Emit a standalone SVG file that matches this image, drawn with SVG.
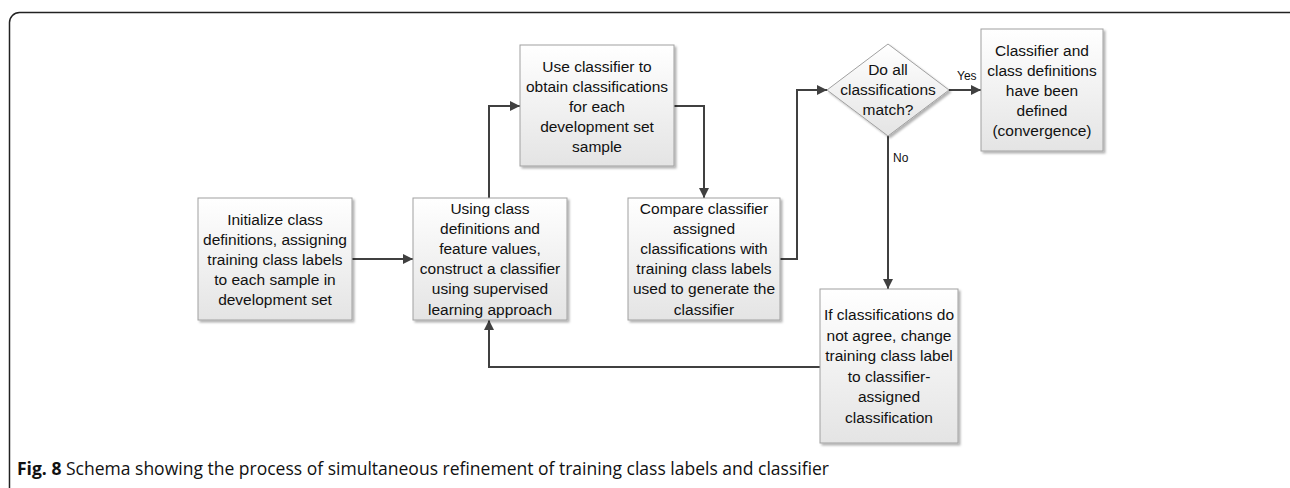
<svg xmlns="http://www.w3.org/2000/svg" width="1290" height="488" viewBox="0 0 1290 488">
<defs>
<linearGradient id="g" x1="0" y1="0" x2="0" y2="1">
<stop offset="0" stop-color="#ffffff"/>
<stop offset="1" stop-color="#e4e4e4"/>
</linearGradient>
<filter id="sh" x="-10%" y="-10%" width="130%" height="130%">
<feDropShadow dx="2" dy="2" stdDeviation="1" flood-color="#000" flood-opacity="0.3"/>
</filter>
<marker id="ah" viewBox="0 0 10 10" refX="10" refY="5" markerWidth="10" markerHeight="10" markerUnits="userSpaceOnUse" orient="auto">
<path d="M0,0 L10,5 L0,10 z" fill="#404040"/>
</marker>
<style>
.box{fill:url(#g);stroke:#a0a0a0;stroke-width:1;filter:url(#sh)}
.t{font-family:"Liberation Sans",Arial,sans-serif;font-size:15.5px;fill:#111;text-anchor:middle}
.lbl{font-family:"Liberation Sans",Arial,sans-serif;font-size:12px;fill:#111}
.c{fill:none;stroke:#404040;stroke-width:2;marker-end:url(#ah)}
.cap{font-family:"Open Sans","Liberation Sans",sans-serif;font-size:18px;fill:#111}
</style>
</defs>
<rect x="9.5" y="12.5" width="1290" height="500" rx="10" fill="#fff" stroke="#222" stroke-width="1.5"/>

<g id="connectors">
<path class="c" d="M352,259 H413"/>
<path class="c" d="M489,198 V106 H520"/>
<path class="c" d="M674,106 H704 V198"/>
<path class="c" d="M780,259 H797 V90 H827"/>
<path class="c" d="M949,90 H981"/>
<path class="c" d="M888,136 V289"/>
<path class="c" d="M820,367 H489 V320"/>
<text class="lbl" x="957" y="80">Yes</text>
<text class="lbl" x="893" y="162">No</text>
</g>

<g id="nodeA">
<rect class="box" x="198" y="198" width="154" height="122"/>
<text class="t"><tspan x="275" y="225">Initialize class</tspan><tspan x="275" y="245">definitions, assigning</tspan><tspan x="275" y="265">training class labels</tspan><tspan x="275" y="285">to each sample in</tspan><tspan x="275" y="305">development set</tspan></text>
</g>

<g id="nodeB">
<rect class="box" x="413" y="198" width="154" height="122"/>
<text class="t"><tspan x="490" y="213.5">Using class</tspan><tspan x="490" y="233.7">definitions and</tspan><tspan x="490" y="253.9">feature values,</tspan><tspan x="490" y="274.1">construct a classifier</tspan><tspan x="490" y="294.3">using supervised</tspan><tspan x="490" y="314.5">learning approach</tspan></text>
</g>

<g id="nodeC">
<rect class="box" x="520" y="45" width="154" height="121"/>
<text class="t"><tspan x="597" y="72">Use classifier to</tspan><tspan x="597" y="92">obtain classifications</tspan><tspan x="597" y="112">for each</tspan><tspan x="597" y="132">development set</tspan><tspan x="597" y="152">sample</tspan></text>
</g>

<g id="nodeD">
<rect class="box" x="628" y="198" width="152" height="122"/>
<text class="t"><tspan x="704" y="213.5">Compare classifier</tspan><tspan x="704" y="233.7">assigned</tspan><tspan x="704" y="253.9">classifications with</tspan><tspan x="704" y="274.1">training class labels</tspan><tspan x="704" y="294.3">used to generate the</tspan><tspan x="704" y="314.5">classifier</tspan></text>
</g>

<g id="decision">
<path class="box" d="M888,44 L949,90 L888,136 L827,90 z"/>
<text class="t"><tspan x="888" y="75">Do all</tspan><tspan x="888" y="95">classifications</tspan><tspan x="888" y="115">match?</tspan></text>
</g>

<g id="nodeE">
<rect class="box" x="981" y="29" width="122" height="122"/>
<text class="t"><tspan x="1042" y="56">Classifier and</tspan><tspan x="1042" y="76">class definitions</tspan><tspan x="1042" y="96">have been</tspan><tspan x="1042" y="116">defined</tspan><tspan x="1042" y="136">(convergence)</tspan></text>
</g>

<g id="nodeF">
<rect class="box" x="820" y="289" width="138" height="154"/>
<text class="t"><tspan x="889" y="320">If classifications do</tspan><tspan x="889" y="340.6">not agree, change</tspan><tspan x="889" y="361.2">training class label</tspan><tspan x="889" y="381.8">to classifier-</tspan><tspan x="889" y="402.4">assigned</tspan><tspan x="889" y="423">classification</tspan></text>
</g>

<text class="cap" x="17" y="475" textLength="812" lengthAdjust="spacingAndGlyphs"><tspan font-weight="bold">Fig. 8</tspan> Schema showing the process of simultaneous refinement of training class labels and classifier</text>
</svg>
